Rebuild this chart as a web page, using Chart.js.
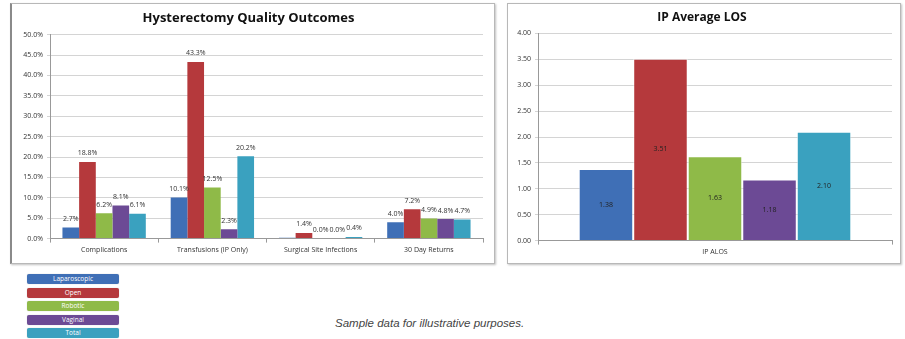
<!DOCTYPE html>
<html>
<head>
<meta charset="utf-8">
<script src="https://cdn.jsdelivr.net/npm/chart.js@4"></script>
<style>
    body { margin: 0; background: #fff; width: 905px; height: 339px; position: relative; overflow: hidden; font-family: "Open Sans", sans-serif; }
    .box { position: absolute; top: 3px; height: 259px; border: 1px solid #b8b8b8; box-shadow: 1px 1px 2px rgba(0,0,0,0.25); background: #fff; }
    .box canvas { display: block; }
    #box1 { left: 10px; width: 482px; border-left: 2px solid #8a8a8a; }
    #box2 { left: 507px; width: 392px; }
    .legend-item { position: absolute; left: 27px; width: 92px; height: 10px; border-radius: 2px; color: #fff; font-size: 6.5px; line-height: 10px; text-align: center; box-shadow: 0 0 1px rgba(0,0,0,0.3); }
    #caption { position: absolute; left: 335px; top: 317px; font-family: "Liberation Sans", Arial, sans-serif; font-style: italic; font-size: 11.5px; color: #444; }
</style>
</head>
<body>
<div class="box" id="box1"><canvas id="quality" width="482" height="259"></canvas></div>
<div class="box" id="box2"><canvas id="los" width="392" height="259"></canvas></div>
<div id="legend"></div>
<div id="caption">Sample data for illustrative purposes.</div>
<script>
    const CATEGORIES = ['Complications', 'Transfusions (IP Only)', 'Surgical Site Infections', '30 Day Returns'];
    const SERIES = ['Laparoscopic', 'Open', 'Robotic', 'Vaginal', 'Total'];

    // hysterectomy outcomes, percent
    const laparoscopic = [2.7, 10.1, 0.2, 4.0];
    const open = [18.8, 43.3, 1.4, 7.2];
    const robotic = [6.2, 12.5, 0.0, 4.9];
    const vaginal = [8.1, 2.3, 0.0, 4.8];
    const total = [6.1, 20.2, 0.4, 4.7];

    // inpatient average length of stay
    const LOS_CATEGORY = ['IP ALOS'];
    const losValues = [1.38, 3.51, 1.63, 1.18, 2.10];

    const colors = ['#3f6fb6', '#b5393c', '#8fba48', '#6c4a95', '#3aa1bf'];

    const FONT = '"Open Sans", sans-serif';

    // draws the value labels on the bars
    const valueLabels = {
        id: 'valueLabels',
        afterDatasetsDraw(chart, args, opts) {
            const ctx = chart.ctx;
            ctx.save();
            ctx.font = `${opts.size || 7}px ${FONT}`;
            ctx.fillStyle = opts.color || '#333';
            ctx.textAlign = 'center';
            chart.data.datasets.forEach((ds, i) => {
                const meta = chart.getDatasetMeta(i);
                meta.data.forEach((bar, j) => {
                    const v = ds.data[j];
                    if (opts.skip && opts.skip(i, j)) return;
                    const text = opts.format(v);
                    if (opts.inside) {
                        ctx.textBaseline = 'middle';
                        ctx.fillText(text, bar.x, (bar.y + bar.base) / 2);
                    } else {
                        ctx.textBaseline = 'bottom';
                        ctx.fillText(text, bar.x, bar.y - 5);
                    }
                });
            });
            ctx.restore();
        }
    };

    function axes(max, step, fmt, yWidth) {
        return {
            x: {
                grid: { display: true, drawOnChartArea: false, offset: true, color: '#999', tickLength: 4 },
                border: { color: '#999' },
                ticks: { color: '#333', font: { size: 7, family: FONT }, padding: 3, maxRotation: 0, autoSkip: false }
            },
            y: {
                min: 0,
                max: max,
                afterFit: s => { s.width = yWidth; },
                grid: { color: '#d4d4d4', tickLength: 3, drawTicks: true },
                border: { color: '#999' },
                ticks: { stepSize: step, color: '#333', font: { size: 7, family: FONT }, padding: 4, autoSkip: false, callback: fmt }
            }
        };
    }

    function title(text, size) {
        return {
            display: true,
            text: text,
            color: '#111',
            font: { size: size, weight: 'bold', family: FONT },
            padding: { top: 6, bottom: 9 }
        };
    }

    const series1 = [laparoscopic, open, robotic, vaginal, total];

    new Chart(document.getElementById('quality'), {
        type: 'bar',
        data: {
            labels: CATEGORIES,
            datasets: SERIES.map((name, i) => ({
                label: name,
                data: series1[i],
                backgroundColor: colors[i],
                borderWidth: 0,
                categoryPercentage: 0.77,
                barPercentage: 1.0
            }))
        },
        options: {
            responsive: false,
            animation: false,
            layout: { padding: { left: 2, right: 11, top: 0, bottom: 6 } },
            scales: axes(50, 5, v => v.toFixed(1) + '%', 36),
            plugins: {
                legend: { display: false },
                tooltip: { enabled: false },
                title: title('Hysterectomy Quality Outcomes', 13),
                valueLabels: {
                    size: 7,
                    format: v => v.toFixed(1) + '%',
                    skip: (i, j) => i === 0 && j === 2
                }
            }
        },
        plugins: [valueLabels]
    });

    new Chart(document.getElementById('los'), {
        type: 'bar',
        data: {
            labels: LOS_CATEGORY,
            datasets: SERIES.map((name, i) => ({
                label: name,
                data: [losValues[i]],
                backgroundColor: colors[i],
                borderColor: 'rgba(255,255,255,0.6)',
                borderWidth: 1,
                categoryPercentage: 0.77,
                barPercentage: 1.0
            }))
        },
        options: {
            responsive: false,
            animation: false,
            layout: { padding: { left: 4, right: 8, top: 0, bottom: 4 } },
            scales: axes(4, 0.5, v => v.toFixed(2), 26),
            plugins: {
                legend: { display: false },
                tooltip: { enabled: false },
                title: title('IP Average LOS', 12),
                valueLabels: {
                    size: 7,
                    color: '#222',
                    inside: true,
                    format: v => v.toFixed(2)
                }
            }
        },
        plugins: [valueLabels]
    });

    // legend drawn as a stack of labelled boxes under the left chart
    const legend = document.getElementById('legend');
    SERIES.forEach((name, i) => {
        const d = document.createElement('div');
        d.className = 'legend-item';
        d.style.top = (274 + i * 13.6) + 'px';
        d.style.background = colors[i];
        d.textContent = name;
        legend.appendChild(d);
    });
</script>
</body>
</html>
